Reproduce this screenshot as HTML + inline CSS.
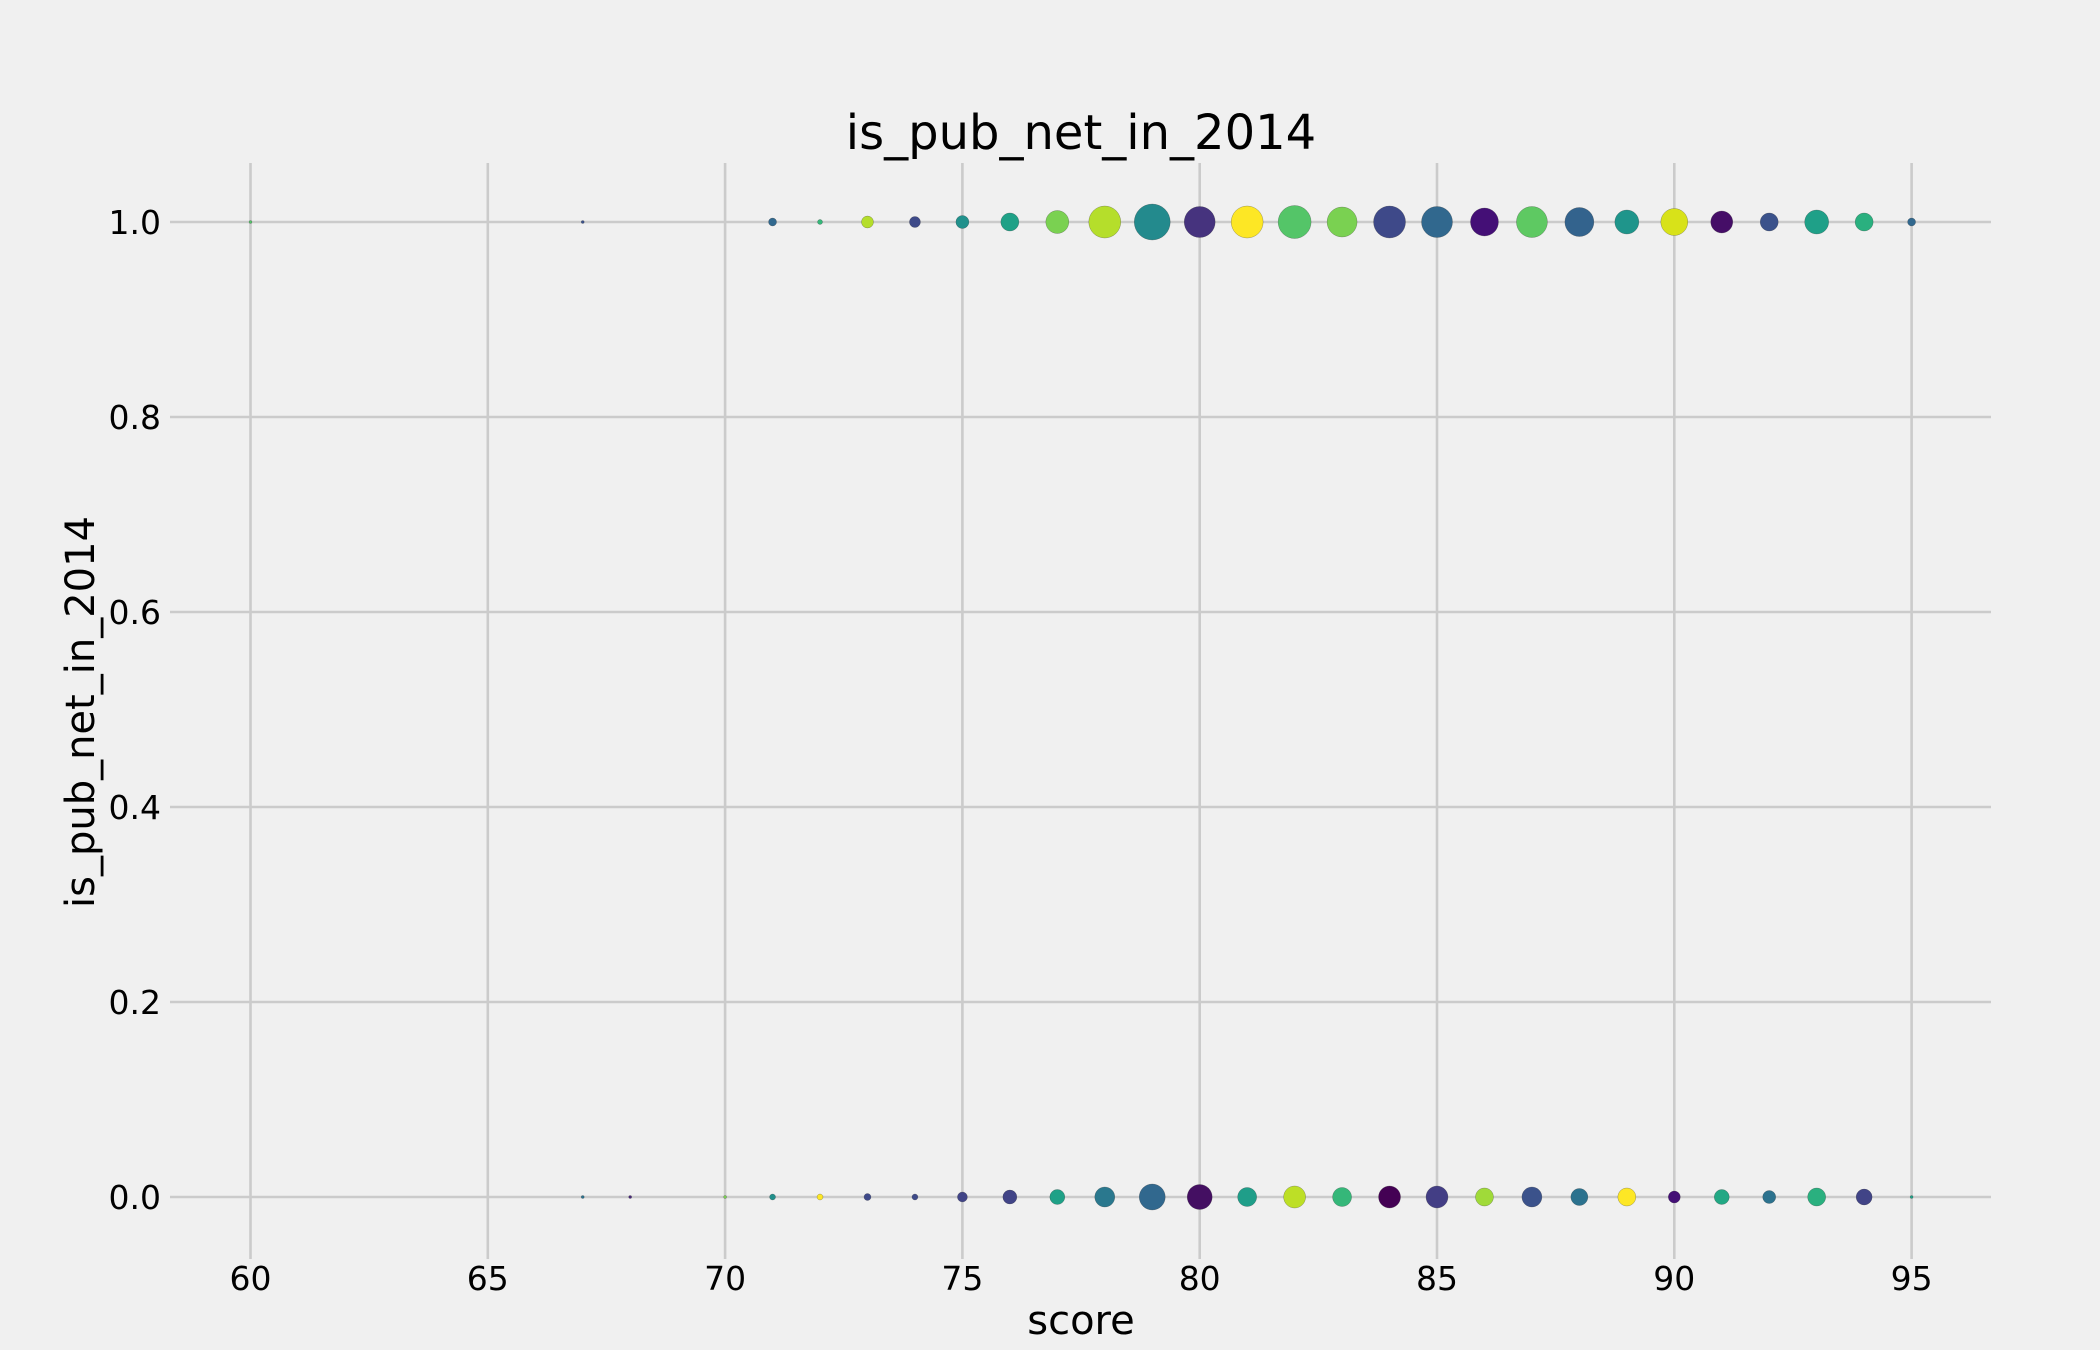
<!DOCTYPE html>
<html><head><meta charset="utf-8"><style>
html,body{margin:0;padding:0;background:#f0f0f0}
svg{display:block}
text{font-family:"DejaVu Sans","Liberation Sans",sans-serif;fill:#000}
</style></head><body>
<svg id="chart" width="2100" height="1350" viewBox="0 0 2100 1350">
<rect width="2100" height="1350" fill="#f0f0f0"/>
<g id="grid"></g>
<g id="ticks"></g>
<g id="marks"></g>
<text x="1081" y="149" font-size="48" text-anchor="middle">is_pub_net_in_2014</text>
<text x="1081" y="1334" font-size="40" text-anchor="middle">score</text>
<text transform="translate(94,712) rotate(-90)" font-size="40" text-anchor="middle">is_pub_net_in_2014</text>
</svg>
<script>
const xTicks = [60,65,70,75,80,85,90,95];
const yTicks = [0.0,0.2,0.4,0.6,0.8,1.0];
const yTickLabels = ["0.0","0.2","0.4","0.6","0.8","1.0"];
const scores1 = [60,67,71,72,73,74,75,76,77,78,79,80,81,82,83,84,85,86,87,88,89,90,91,92,93,94,95];
const sizes1 = [9,9,64,25,144,121,169,324,529,1024,1296,961,1024,1089,900,1024,961,784,961,841,576,729,484,324,576,324,64];
const colors1 = ["#54c568","#3b528b","#31688e","#35b779","#b5de2b","#3e4a89","#21918c","#1fa187","#7ad151","#b5de2b","#238a8d","#46337e","#fde725","#54c568","#7ad151","#3e4989","#31688e","#440f76","#5ec962","#33638d","#1f958b","#d8e219","#450e67","#3b528b","#1fa088","#2ab07f","#31688e"];
const scores0 = [67,68,70,71,72,73,74,75,76,77,78,79,80,81,82,83,84,85,86,87,88,89,90,91,92,93,94,95];
const sizes0 = [9,9,9,36,36,49,36,100,196,225,400,676,625,361,484,361,484,484,324,400,289,324,144,225,169,324,256,9];
const colors0 = ["#2c728e","#482878","#7ad151","#218f8b","#fde725","#3e4989","#3e4a89","#414487","#414487","#1fa187","#2a788e","#31688e","#440f62","#1f9e89","#bddf26","#35b779","#440154","#433e85","#a0da39","#3b528b","#2c728e","#fde725","#440f76","#22a884","#2c728e","#2ab07f","#414487","#1fa187"];

const NS="http://www.w3.org/2000/svg";
const X0=170,X1=1991,Y0=163,Y1=1259;
function xs(v){return 250.5+(v-60)*47.46;}
function ys(v){return 1197-v*975;}
function el(tag,attrs,parent){const e=document.createElementNS(NS,tag);for(const k in attrs)e.setAttribute(k,attrs[k]);parent.appendChild(e);return e;}
const grid=document.getElementById('grid'),ticks=document.getElementById('ticks'),marks=document.getElementById('marks');
xTicks.forEach(t=>{
  const l=el('line',{x1:xs(t),x2:xs(t),y1:Y0,y2:Y1,stroke:'#cbcbcb','stroke-width':2.6},grid);
  
  
  const tx=el('text',{x:xs(t),y:1290,'font-size':33,'text-anchor':'middle'},ticks);
  tx.textContent=t;
  
  
});
yTicks.forEach((t,i)=>{
  const l=el('line',{x1:X0,x2:X1,y1:ys(t),y2:ys(t),stroke:'#cbcbcb','stroke-width':2.6},grid);
  
  
  const tx=el('text',{x:161,y:ys(t)+12,'font-size':33,'text-anchor':'end'},ticks);
  tx.textContent=yTickLabels[i];
  
  
});
function drawSeries(scores,sizes,colors,yv){
  scores.forEach((s,i)=>{
    const c=el('circle',{cx:xs(s),cy:ys(yv),r:Math.sqrt(sizes[i])/2,fill:colors[i],stroke:'#333','stroke-width':0.4,'stroke-opacity':0.6},marks);
    
    
  });
}
drawSeries(scores0,sizes0,colors0,0);
drawSeries(scores1,sizes1,colors1,1);
</script>
</body></html>
